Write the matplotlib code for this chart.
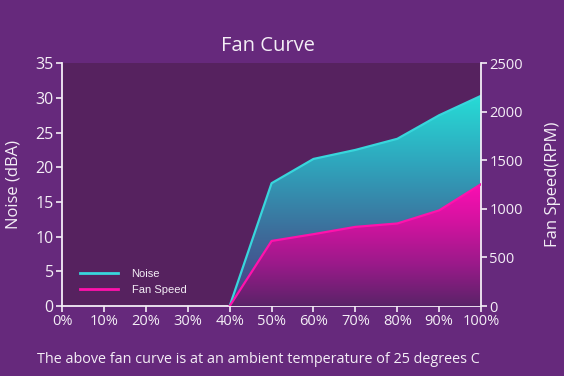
import matplotlib
matplotlib.use("Agg")
import matplotlib.pyplot as plt
import numpy as np
from matplotlib.colors import LinearSegmentedColormap
from matplotlib.lines import Line2D

# Data
x_labels = ["0%", "10%", "20%", "30%", "40%", "50%", "60%", "70%", "80%", "90%", "100%"]
load_pct = [40, 50, 60, 70, 80, 90, 100]
noise_dba = [0, 17.7, 21.2, 22.5, 24.1, 27.5, 30.3]
fan_rpm = [0, 670, 740, 815, 850, 985, 1255]

BG = "#66297c"
PLOT_BG = "#56225f"
WHITE = "#f4eef6"
FONT = "Open Sans"

fig = plt.figure(figsize=(5.64, 3.76), dpi=100)
fig.patch.set_facecolor(BG)
ax1 = fig.add_axes([0.110, 0.186, 0.743, 0.646])
ax1.set_facecolor(PLOT_BG)
ax2 = ax1.twinx()
ax2.patch.set_visible(False)

ax1.set_xlim(0, 100)
ax1.set_ylim(0, 35)
ax2.set_ylim(0, 2500)

grad = np.linspace(0, 1, 256).reshape(-1, 1)

# Noise gradient area
noise_cmap = LinearSegmentedColormap.from_list("n", ["#4a3c86", "#3d6c9a", "#2fa6bd", "#26e0d8"])
poly1 = ax1.fill_between(load_pct, noise_dba, 0, color="none", lw=0)
im1 = ax1.imshow(grad, extent=[40, 100, 0, 31], origin="lower", aspect="auto",
                 cmap=noise_cmap, zorder=1)
im1.set_clip_path(poly1.get_paths()[0], transform=ax1.transData)
ax1.plot(load_pct, noise_dba, color="#38d6dc", lw=1.6, zorder=3)

# Fan gradient area
fan_cmap = LinearSegmentedColormap.from_list("f", ["#5a2368", "#9a1a8a", "#d2139f", "#ff0eb4"])
poly2 = ax2.fill_between(load_pct, fan_rpm, 0, color="none", lw=0)
im2 = ax2.imshow(grad, extent=[40, 100, 0, 1280], origin="lower", aspect="auto",
                 cmap=fan_cmap, zorder=1)
im2.set_clip_path(poly2.get_paths()[0], transform=ax2.transData)
ax2.plot(load_pct, fan_rpm, color="#ff12ac", lw=1.6, zorder=3)
ax1.set_xlim(0, 100)
ax1.set_ylim(0, 35)
ax2.set_ylim(0, 2500)
ax2.set_xlim(0, 100)

# Ticks
ax1.set_xticks(np.arange(0, 101, 10))
ax1.set_xticklabels(x_labels)
ax1.set_yticks(np.arange(0, 36, 5))
ax2.set_yticks(np.arange(0, 2501, 500))
for ax in (ax1, ax2):
    ax.tick_params(colors=WHITE, labelcolor=WHITE, labelsize=10.5, length=4, width=1.2, pad=2)
    for lab in ax.get_xticklabels() + ax.get_yticklabels():
        lab.set_fontfamily(FONT)
    for s in ax.spines.values():
        s.set_color(WHITE)
        s.set_linewidth(1.3)
    ax.spines["top"].set_visible(False)
ax1.tick_params(axis="y", labelsize=11.5)
ax1.spines["right"].set_visible(False)
ax2.spines["left"].set_visible(False)
ax2.spines["bottom"].set_visible(False)

ax1.set_ylabel("Noise (dBA)", color=WHITE, fontsize=12, fontfamily=FONT, labelpad=10)
ax2.set_ylabel("Fan Speed(RPM)", color=WHITE, fontsize=12, fontfamily=FONT, labelpad=16)

fig.text(268 / 564, 0.877, "Fan Curve", ha="center", va="center", color=WHITE,
         fontsize=14.5, fontfamily=FONT)
fig.text(258 / 564, 0.043, "The above fan curve is at an ambient temperature of 25 degrees C",
         ha="center", va="center", color=WHITE, fontsize=10.35, fontfamily=FONT)

h1 = Line2D([], [], color="#38d6dc", lw=2)
h2 = Line2D([], [], color="#ff12ac", lw=2)
leg = ax2.legend([h1, h2], ["Noise", "Fan Speed"], loc="lower left",
                 bbox_to_anchor=(0.02, 0.005), frameon=False, handlelength=3.4,
                 handletextpad=1.2, labelspacing=0.5,
                 prop={"family": "Liberation Sans", "size": 8})
for t in leg.get_texts():
    t.set_color(WHITE)

fig.savefig("out.png", dpi=100, facecolor=BG)
